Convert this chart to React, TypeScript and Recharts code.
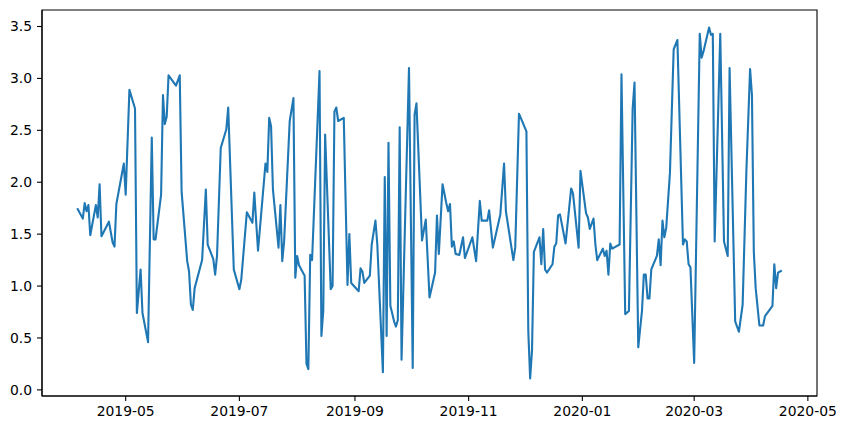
import { LineChart, Line, XAxis, YAxis, ReferenceArea } from 'recharts'

const dates = [
  '2019-04-05','2019-04-08','2019-04-09','2019-04-10','2019-04-11','2019-04-12','2019-04-15','2019-04-16','2019-04-17','2019-04-18',
  '2019-04-22','2019-04-24','2019-04-25','2019-04-26','2019-04-30','2019-05-01','2019-05-03','2019-05-06','2019-05-07','2019-05-09',
  '2019-05-10','2019-05-13','2019-05-15','2019-05-16','2019-05-17','2019-05-20','2019-05-21','2019-05-22','2019-05-23','2019-05-24',
  '2019-05-28','2019-05-30','2019-05-31','2019-06-03','2019-06-04','2019-06-05','2019-06-06','2019-06-07','2019-06-11','2019-06-13',
  '2019-06-14','2019-06-17','2019-06-18','2019-06-19','2019-06-21','2019-06-24','2019-06-25','2019-06-28','2019-07-01','2019-07-02',
  '2019-07-05','2019-07-08','2019-07-09','2019-07-11','2019-07-15','2019-07-16','2019-07-17','2019-07-18','2019-07-19','2019-07-22',
  '2019-07-23','2019-07-24','2019-07-25','2019-07-28','2019-07-30','2019-07-31','2019-08-01','2019-08-02','2019-08-05','2019-08-06',
  '2019-08-07','2019-08-08','2019-08-09','2019-08-13','2019-08-14','2019-08-15','2019-08-16','2019-08-19','2019-08-20','2019-08-21',
  '2019-08-22','2019-08-23','2019-08-26','2019-08-28','2019-08-29','2019-08-30','2019-09-03','2019-09-04','2019-09-05','2019-09-06',
  '2019-09-09','2019-09-10','2019-09-12','2019-09-13','2019-09-16','2019-09-17','2019-09-18','2019-09-19','2019-09-20','2019-09-22',
  '2019-09-23','2019-09-24','2019-09-25','2019-09-26','2019-09-30','2019-10-02','2019-10-03','2019-10-04','2019-10-07','2019-10-09',
  '2019-10-11','2019-10-14','2019-10-15','2019-10-16','2019-10-18','2019-10-20','2019-10-21','2019-10-22','2019-10-23','2019-10-24',
  '2019-10-25','2019-10-27','2019-10-29','2019-10-30','2019-11-03','2019-11-05','2019-11-07','2019-11-08','2019-11-11','2019-11-12',
  '2019-11-14','2019-11-18','2019-11-20','2019-11-21','2019-11-25','2019-11-26','2019-11-28','2019-12-02','2019-12-03','2019-12-04',
  '2019-12-05','2019-12-06','2019-12-09','2019-12-10','2019-12-11','2019-12-12','2019-12-13','2019-12-16','2019-12-17','2019-12-18',
  '2019-12-19','2019-12-20','2019-12-23','2019-12-26','2019-12-27','2019-12-30','2019-12-31','2020-01-03','2020-01-04','2020-01-05',
  '2020-01-07','2020-01-08','2020-01-09','2020-01-12','2020-01-13','2020-01-14','2020-01-15','2020-01-16','2020-01-17','2020-01-21',
  '2020-01-22','2020-01-24','2020-01-26','2020-01-28','2020-01-29','2020-01-31','2020-02-02','2020-02-03','2020-02-04','2020-02-05',
  '2020-02-06','2020-02-07','2020-02-10','2020-02-11','2020-02-12','2020-02-13','2020-02-14','2020-02-15','2020-02-17','2020-02-19',
  '2020-02-21','2020-02-24','2020-02-25','2020-02-26','2020-02-27','2020-02-28','2020-03-01','2020-03-04','2020-03-05','2020-03-06',
  '2020-03-09','2020-03-10','2020-03-11','2020-03-12','2020-03-15','2020-03-17','2020-03-19','2020-03-20','2020-03-23','2020-03-25',
  '2020-03-27','2020-03-29','2020-03-31','2020-04-01','2020-04-02','2020-04-03','2020-04-05','2020-04-07','2020-04-08','2020-04-12',
  '2020-04-13','2020-04-14','2020-04-15','2020-04-17',
]

const values = [
  1.75,1.65,1.80,1.72,1.78,1.49,1.78,1.66,1.98,1.48,
  1.62,1.42,1.38,1.79,2.18,1.88,2.89,2.71,0.74,1.16,
  0.74,0.46,2.43,1.45,1.45,1.88,2.84,2.56,2.63,3.03,
  2.93,3.03,1.91,1.24,1.14,0.82,0.77,0.98,1.25,1.93,
  1.40,1.26,1.11,1.29,2.33,2.51,2.72,1.16,0.97,1.06,
  1.71,1.61,1.90,1.34,2.18,2.10,2.62,2.54,1.93,1.37,
  1.78,1.24,1.43,2.59,2.81,1.08,1.29,1.20,1.10,0.25,
  0.20,1.30,1.25,3.07,0.52,0.76,2.46,0.97,1.00,2.68,
  2.72,2.59,2.62,1.01,1.50,1.03,0.95,1.17,1.14,1.03,
  1.10,1.40,1.63,1.40,0.17,2.05,0.52,2.38,0.81,0.66,
  0.61,0.67,2.53,0.29,3.10,0.21,2.65,2.76,1.44,1.64,
  0.89,1.13,1.68,1.31,1.98,1.80,1.72,1.79,1.38,1.43,
  1.31,1.30,1.47,1.27,1.47,1.24,1.82,1.63,1.63,1.73,
  1.37,1.69,2.18,1.72,1.25,1.37,2.66,2.49,0.57,0.11,
  0.38,1.33,1.47,1.21,1.55,1.16,1.13,1.21,1.38,1.41,
  1.68,1.69,1.41,1.94,1.89,1.37,2.11,1.70,1.66,1.55,
  1.65,1.40,1.25,1.36,1.29,1.34,1.11,1.41,1.36,1.40,
  3.04,0.73,0.76,2.71,2.96,0.41,0.76,1.11,1.11,0.88,
  0.88,1.16,1.29,1.45,1.20,1.63,1.47,1.56,2.09,3.28,
  3.37,1.40,1.45,1.43,1.21,1.18,0.26,3.43,3.20,3.26,
  3.49,3.42,3.43,1.43,3.43,1.43,1.29,3.10,0.66,0.56,
  0.82,2.10,3.09,2.84,1.33,0.98,0.62,0.62,0.71,0.81,
  1.21,0.98,1.13,1.15,
]

const xTickLabels = ['2019-05', '2019-07', '2019-09', '2019-11', '2020-01', '2020-03', '2020-05']
const yTicks = [0, 0.5, 1, 1.5, 2, 2.5, 3, 3.5]

const data = dates.map((d, i) => ({ t: Date.parse(d), v: values[i] }))
const xTicks = xTickLabels.map(m => Date.parse(m + '-01'))

// matplotlib-style 5% margins
const t0 = data[0].t
const t1 = data[data.length - 1].t
const xPad = (t1 - t0) * 0.05
const xDomain: [number, number] = [t0 - xPad, t1 + xPad]
const vMin = Math.min(...values)
const vMax = Math.max(...values)
const yPad = (vMax - vMin) * 0.05
const yDomain: [number, number] = [vMin - yPad, vMax + yPad]

const tickStyle = { fill: '#000', fontSize: 13.9, fontFamily: 'DejaVu Sans' }

export default function App() {
  return (
    <div style={{ position: 'absolute', left: 0, top: 0, width: 846, height: 428, background: '#fff' }}>
      <LineChart width={846} height={428} data={data} margin={{ top: 10, right: 29, bottom: 0, left: 0 }}>
        <XAxis dataKey="t" type="number" domain={xDomain} ticks={xTicks} interval={0}
          tickFormatter={(ms: number) => new Date(ms).toISOString().slice(0, 7)}
          height={32} tickSize={5} tickMargin={5} tick={tickStyle}
          axisLine={{ stroke: '#000', strokeWidth: 1.1 }} tickLine={{ stroke: '#000', strokeWidth: 1.1 }} />
        <YAxis type="number" domain={yDomain} ticks={yTicks} interval={0}
          tickFormatter={(v: number) => v.toFixed(1)}
          width={42} tickSize={5} tickMargin={5} tick={tickStyle}
          axisLine={{ stroke: '#000', strokeWidth: 1.1 }} tickLine={{ stroke: '#000', strokeWidth: 1.1 }} />
        <ReferenceArea x1={xDomain[0]} x2={xDomain[1]} y1={yDomain[0]} y2={yDomain[1]}
          fill="none" stroke="#000" strokeWidth={1.1} ifOverflow="visible" />
        <Line type="linear" dataKey="v" stroke="#1f77b4" strokeWidth={2.1} dot={false}
          strokeLinejoin="round" isAnimationActive={false} />
      </LineChart>
    </div>
  )
}
